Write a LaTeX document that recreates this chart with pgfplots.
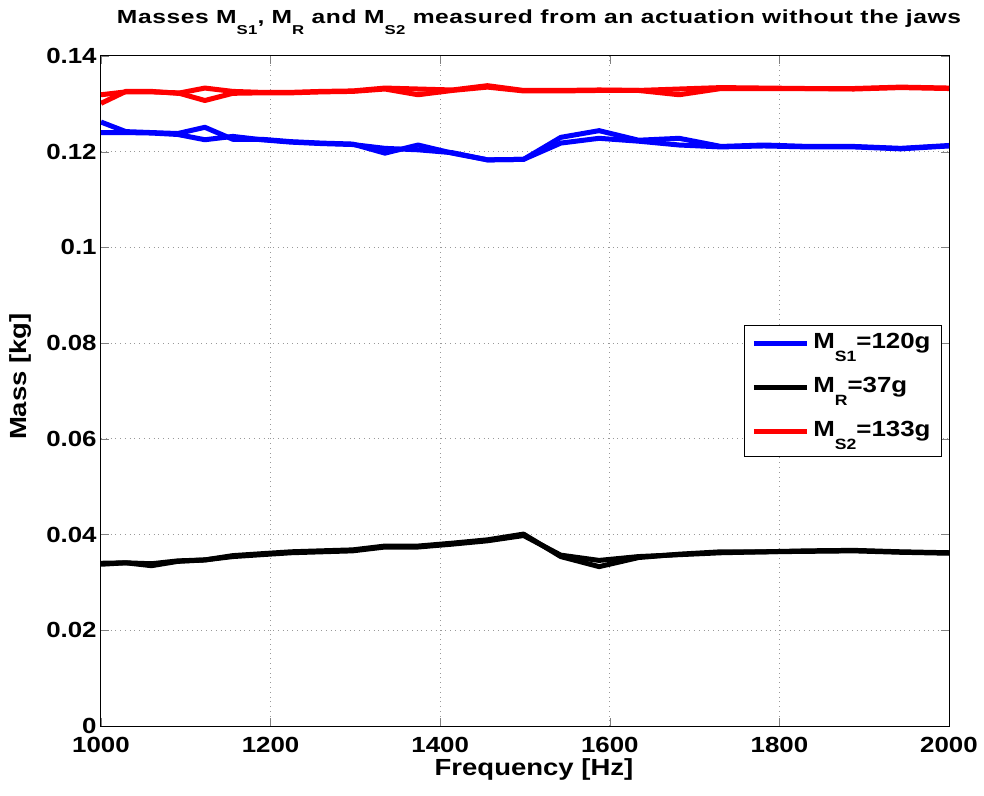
\documentclass[border=0pt]{standalone}
\usepackage{pgfplots}
\usepackage{pgfplotstable}
\usepackage{fontspec}
\setmainfont{Liberation Sans}[FakeStretch=1.18]
\newfontfamily\titlefont{Liberation Sans}[FakeStretch=1.3, LetterSpace=3]
\pgfplotsset{compat=1.18}

% subscripts as MATLAB draws them: small and set well below the baseline
\newcommand\sub[1]{\raisebox{-0.58em}{\scalebox{0.68}{#1}}}

% f, blue runs (b1,b2), black runs (k1,k2), red runs (r1,r2)
\pgfplotstableread{
f      b1     b2     k1     k2     r1     r2
1000.0 0.1262 0.1240 0.0340 0.0338 0.1301 0.1319
1029.3 0.1242 0.1240 0.0341 0.0341 0.1326 0.1325
1059.5 0.1240 0.1239 0.0339 0.0335 0.1326 0.1325
1090.5 0.1238 0.1236 0.0345 0.0344 0.1322 0.1323
1122.5 0.1251 0.1225 0.0347 0.0347 0.1333 0.1307
1155.4 0.1226 0.1232 0.0354 0.0356 0.1326 0.1322
1189.2 0.1226 0.1225 0.0358 0.0360 0.1324 0.1323
1224.1 0.1221 0.1220 0.0362 0.0364 0.1324 0.1323
1259.9 0.1218 0.1217 0.0364 0.0366 0.1326 0.1325
1296.8 0.1216 0.1215 0.0366 0.0368 0.1327 0.1326
1334.8 0.1197 0.1207 0.0374 0.0376 0.1333 0.1331
1373.9 0.1214 0.1204 0.0374 0.0376 0.1331 0.1319
1414.2 0.1197 0.1198 0.0380 0.0382 0.1329 0.1328
1455.7 0.1183 0.1183 0.0387 0.0389 0.1338 0.1335
1498.3 0.1184 0.1184 0.0398 0.0401 0.1328 0.1327
1542.2 0.1230 0.1218 0.0357 0.0354 0.1328 0.1327
1587.4 0.1244 0.1228 0.0346 0.0333 0.1329 0.1328
1633.9 0.1224 0.1222 0.0354 0.0352 0.1328 0.1328
1681.8 0.1228 0.1214 0.0358 0.0359 0.1331 0.1319
1731.1 0.1211 0.1210 0.0362 0.0364 0.1334 0.1332
1781.8 0.1214 0.1212 0.0364 0.0364 0.1333 0.1332
1834.0 0.1211 0.1210 0.0366 0.0365 0.1332 0.1332
1887.7 0.1211 0.1210 0.0367 0.0366 0.1332 0.1331
1943.0 0.1207 0.1206 0.0364 0.0363 0.1335 0.1334
2000.0 0.1213 0.1212 0.0362 0.0361 0.1333 0.1332
}\masses

\begin{document}
\begin{tikzpicture}
\useasboundingbox (-50.5bp,-35bp) rectangle (441.5bp,363bp);
\begin{axis}[
  at={(0,0)}, anchor=south west,
  scale only axis, width=424bp, height=335bp,
  xmin=1000, xmax=2000, ymin=0, ymax=0.14,
  xtick={1000,1200,...,2000},
  ytick={0,0.02,...,0.14},
  scaled y ticks=false,
  /pgf/number format/assume math mode=true,
  /pgf/number format/set thousands separator={},
  y tick label style={/pgf/number format/fixed,/pgf/number format/precision=2},
  tick label style={font=\bfseries\fontsize{11}{13}\selectfont},
  xticklabel style={anchor=base, yshift=-13bp},
  yticklabel style={anchor=east, inner sep=0pt, xshift=-2bp},
  tick align=inside, major tick length=4bp,
  xtick pos=both, ytick pos=both,
  xmajorgrids, ymajorgrids,
  major grid style={dotted, gray!80, line width=0.5bp},
  axis line style={line width=0.5bp},
  title={Masses M\sub{S1}, M\sub{R} and M\sub{S2} measured from an actuation without the jaws},
  title style={font=\titlefont\bfseries\fontsize{9.5}{11}\selectfont,
    at={(axis description cs:0.5,1)}, anchor=base, yshift=10.5bp, xshift=7bp},
  xlabel={Frequency [Hz]},
  ylabel={Mass [kg]},
  label style={font=\bfseries\fontsize{11.7}{13}\selectfont},
  xlabel style={at={(axis description cs:0.5,0)}, anchor=base, yshift=-24.5bp, xshift=4.5bp},
  ylabel style={at={(axis description cs:-0.0873,0.5216)}, anchor=base},
  legend cell align=left,
  legend style={at={(0.9917,0.5985)}, anchor=north east,
    font=\bfseries\fontsize{11}{13}\selectfont,
    draw=black, line width=0.5bp, row sep=3.5bp, column sep=0bp,
    inner xsep=3.5bp, inner ysep=1.5bp,
    nodes={text height=8bp, text depth=6.5bp, inner xsep=2bp, inner ysep=2bp}},
  legend image code/.code={\draw[#1, line width=2.5bp] (0bp,1.8bp) -- (26.5bp,1.8bp);},
  every axis plot/.append style={line width=2.5bp, line join=round},
]
\addplot[blue] table[x=f, y=b1] {\masses};
\addlegendentry{M\sub{S1}=120g}
\addplot[black] table[x=f, y=k1] {\masses};
\addlegendentry{M\sub{R}=37g}
\addplot[red] table[x=f, y=r1] {\masses};
\addlegendentry{M\sub{S2}=133g}
\addplot[blue, forget plot] table[x=f, y=b2] {\masses};
\addplot[black, forget plot] table[x=f, y=k2] {\masses};
\addplot[red, forget plot] table[x=f, y=r2] {\masses};
\end{axis}
\end{tikzpicture}
\end{document}
